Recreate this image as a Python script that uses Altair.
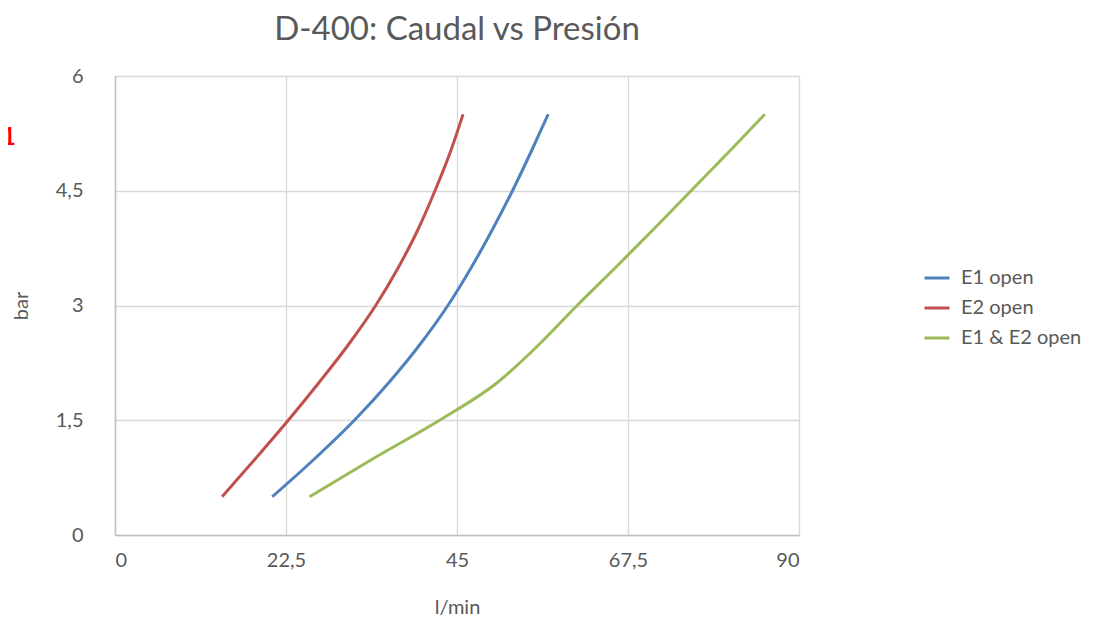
import altair as alt
import pandas as pd

# ---- data ----
pressure = [0.5, 1.0, 1.5, 2.0, 2.5, 3.0, 3.5, 4.0, 4.5, 5.0, 5.5]   # bar
e1_open = [20.7, 26.3, 31.5, 36.1, 40.2, 43.8, 46.9, 49.7, 52.3, 54.7, 57.0]  # l/min
e2_open = [14.1, 18.5, 22.8, 26.9, 30.8, 34.3, 37.3, 39.9, 42.1, 44.1, 45.8]
e12_open = [25.6, 34.0, 42.7, 50.4, 55.9, 60.8, 65.9, 70.9, 75.8, 80.7, 85.5]

series_names = ["E1 open", "E2 open", "E1 & E2 open"]
series_colors = ["#4F81BD", "#C0504D", "#9BBB59"]
x_ticks = [0, 22.5, 45, 67.5, 90]
y_ticks = [0, 1.5, 3, 4.5, 6]
title_text = "D-400: Caudal vs Presión"
x_title = "l/min"
y_title = "bar"
stray_mark = "1"

rows = []
for name, vals in zip(series_names, [e1_open, e2_open, e12_open]):
    for p, q in zip(pressure, vals):
        rows.append({"serie": name, "caudal": q, "presion": p})
df = pd.DataFrame(rows)

FONT = "Lato"
GREY = "#595959"

lines = alt.Chart(df).mark_line(strokeWidth=3, interpolate="monotone").encode(
    x=alt.X("caudal:Q", title=x_title,
            scale=alt.Scale(domain=[0, 90], nice=False, zero=False),
            axis=alt.Axis(values=x_ticks,
                          labelExpr="replace(toString(datum.value), '.', ',')",
                          labelPadding=15, titlePadding=27)),
    y=alt.Y("presion:Q", title=y_title,
            scale=alt.Scale(domain=[0, 6], nice=False),
            axis=alt.Axis(values=y_ticks,
                          labelExpr="replace(toString(datum.value), '.', ',')",
                          labelPadding=32, titlePadding=24)),
    color=alt.Color("serie:N", title=None,
                    scale=alt.Scale(domain=series_names, range=series_colors),
                    sort=series_names,
                    legend=alt.Legend(orient="none", legendX=808, legendY=188,
                                      symbolType="stroke", symbolSize=625,
                                      symbolStrokeWidth=3, labelFontSize=20,
                                      labelFont=FONT, labelColor=GREY,
                                      labelOffset=10, rowPadding=6, padding=0)),
    order=alt.Order("presion:Q"),
)

stray = alt.Chart(pd.DataFrame({"t": [stray_mark]})).mark_text(
    align="left", baseline="alphabetic", fontSize=24, font=FONT,
    color="#FF0000", fontWeight="bold"
).encode(text="t:N", x=alt.value(-113), y=alt.value(69))

chart = alt.layer(lines, stray).properties(
    width=684, height=459,
    title=alt.TitleParams(title_text, fontSize=33, font=FONT, fontWeight="normal",
                          color=GREY, anchor="middle", frame="group",
                          offset=19),
    autosize=alt.AutoSizeParams(type="none"),
    padding={"left": 107, "top": 68, "right": 290, "bottom": 81},
).configure_view(stroke=None).configure_axis(
    labelFont=FONT, titleFont=FONT, labelFontSize=20, titleFontSize=20,
    labelColor=GREY, titleColor=GREY, titleFontWeight="normal",
    gridColor="#D9D9D9", gridWidth=1.3, domainColor="#BFBFBF", domainWidth=1.5,
    ticks=False,
)

chart.save("out.html", embed_options={"renderer": "svg", "actions": False})
